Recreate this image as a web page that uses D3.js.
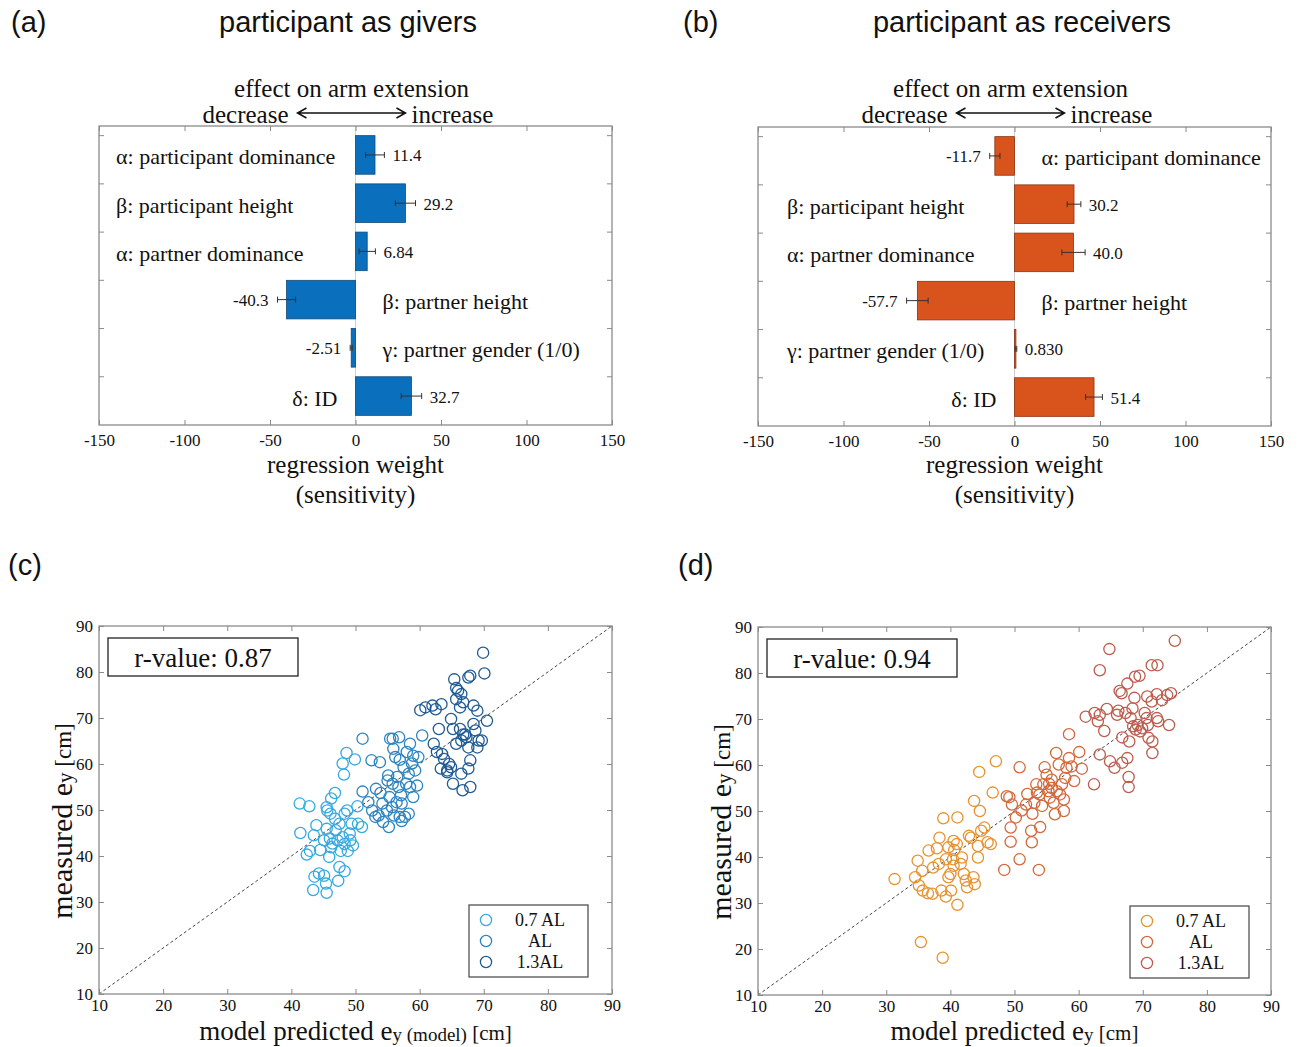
<!DOCTYPE html>
<html>
<head>
<meta charset="utf-8">
<script src="https://cdn.jsdelivr.net/npm/d3@7"></script>
<style>
  body { margin: 0; background: #fff; }
  text { font-family: 'Liberation Serif', 'Times New Roman', serif; fill: #111; }
  .sans { font-family: 'Liberation Sans', Arial, sans-serif; }
</style>
</head>
<body>
<script>
/* Regression weights (bar panels) */
var categories = ['α: participant dominance', 'β: participant height', 'α: partner dominance',
                  'β: partner height', 'γ: partner gender (1/0)', 'δ: ID'];
var barTicks = [-150, -100, -50, 0, 50, 100, 150];

var giverWeights = [11.4, 29.2, 6.84, -40.3, -2.51, 32.7];
var giverErrors = [5.5, 5.9, 4.8, 5.3, 0.6, 6.0];
var giverLabels = ['11.4', '29.2', '6.84', '-40.3', '-2.51', '32.7'];

var receiverWeights = [-11.5, 34.8, 34.5, -56.8, 0.83, 46.5];
var receiverErrors = [3.0, 4.0, 6.8, 6.3, 0.5, 4.9];
var receiverLabels = ['-11.7', '30.2', '40.0', '-57.7', '0.830', '51.4'];

/* Measured vs predicted arm extension (scatter panels) */
var scatterTicks = [10, 20, 30, 40, 50, 60, 70, 80, 90];
var groupNames = ['0.7 AL', 'AL', '1.3AL'];

var givers07 = [[41.3,51.4],[42.8,50.8],[41.4,45.0],[42.4,40.3],[42.9,41.1],[43.5,44.5],[43.9,46.7],
  [43.4,32.6],[43.6,35.5],[44.3,36.2],[45.1,35.7],[45.5,32.0],[45.4,34.0],[44.5,41.3],[45.9,39.8],
  [45.1,43.4],[45.5,45.9],[45.6,49.9],[46.1,49.2],[45.5,50.6],[46.2,52.5],[46.8,53.7],[48.0,60.1],
  [48.6,62.4],[48.2,57.7],[49.9,61.0],[46.4,42.7],[47.2,43.4],[46.9,45.6],[47.5,47.0],[46.8,48.1],
  [48.3,49.2],[48.7,49.9],[47.5,37.6],[48.3,36.7],[47.3,34.6],[47.7,41.1],[48.3,42.6],[49.2,43.4],
  [49.6,42.3],[49.1,44.9],[49.4,47.0],[50.3,50.8],[50.4,47.0],[51.0,46.3],[48.8,41.1],[48.0,44.1],
  [46.2,41.9],[46.0,43.8]];
var giversAL = [[51.1,65.5],[51.1,54.0],[52.5,60.8],[53.8,60.4],[52.0,51.7],[52.6,49.9],[53.1,48.5],
  [53.2,54.6],[53.9,53.7],[54.2,51.4],[53.6,48.8],[54.3,47.4],[55.2,46.3],[54.9,49.9],[55.1,57.5],
  [55.4,65.5],[55.8,65.5],[56.8,65.8],[55.9,63.3],[56.2,61.5],[55.3,52.8],[55.7,50.6],[56.0,48.8],
  [56.9,48.5],[57.2,47.6],[57.7,48.5],[58.3,49.2],[57.2,51.4],[56.4,51.7],[56.7,55.0],[57.1,53.2],
  [56.5,57.2],[57.5,59.3],[56.9,60.9],[58.0,62.6],[58.5,64.4],[59.0,61.8],[58.8,60.1],[59.3,58.6],
  [58.3,57.9],[59.6,55.3],[59.0,52.8],[57.9,55.7],[59.8,61.5],[60.4,66.2],[58.5,55.0],[55.8,55.7],
  [55.0,56.4]];
var givers13 = [[60.1,71.7],[60.9,72.3],[62.0,72.7],[62.5,71.9],[63.4,73.0],[62.2,64.4],[63.0,67.6],
  [62.7,62.6],[63.5,62.2],[63.8,61.1],[63.3,59.0],[64.3,58.2],[64.6,60.0],[64.9,59.3],[65.2,55.7],
  [65.4,78.4],[65.7,76.5],[66.0,75.9],[66.5,75.2],[65.7,74.1],[66.3,72.3],[66.8,73.4],[67.6,78.8],
  [67.9,79.2],[64.9,69.8],[65.2,67.6],[66.3,67.6],[66.8,66.4],[67.1,66.4],[67.3,65.8],[66.5,65.1],
  [67.6,63.6],[67.9,60.8],[67.6,59.0],[66.5,57.9],[66.7,54.3],[67.9,55.0],[68.4,72.7],[69.0,71.6],
  [68.4,68.7],[68.7,67.3],[69.2,65.1],[69.0,63.6],[69.7,65.1],[70.5,69.4],[69.9,84.2],[70.1,79.7],
  [65.7,64.4],[64.3,58.6]];

var receivers07 = [[31.3,35.2],[34.9,39.2],[34.5,35.6],[35.6,37.0],[35.1,33.8],[35.7,32.7],[36.5,32.1],
  [37.2,32.0],[36.6,41.4],[37.3,37.7],[37.9,41.9],[38.3,44.2],[38.2,38.5],[38.9,48.4],[38.6,32.7],
  [39.3,31.4],[39.7,35.6],[40.0,36.3],[40.1,32.7],[40.5,38.1],[39.7,42.1],[40.5,43.5],[41.0,42.8],
  [40.4,39.5],[41.1,48.6],[41.1,29.6],[41.6,38.5],[41.8,39.9],[42.1,36.3],[42.4,34.9],[42.6,33.4],
  [42.9,44.6],[43.2,44.2],[43.7,52.2],[43.6,35.6],[43.8,34.1],[44.3,39.9],[44.3,42.4],[44.5,58.5],
  [44.6,50.0],[44.8,45.7],[45.3,46.4],[45.8,43.2],[46.3,42.8],[46.6,54.0],[47.1,60.8],[39.3,39.5],
  [40.6,41.5],[35.4,21.5],[38.8,18.1]];
var receiversAL = [[48.4,37.2],[49.4,43.3],[49.4,46.4],[48.8,53.2],[49.2,53.0],[49.6,51.4],[50.2,48.6],
  [50.8,39.5],[50.8,59.5],[51.1,50.1],[51.8,51.4],[52.0,53.7],[52.6,45.7],[52.7,43.2],[52.8,49.4],
  [53.1,51.8],[53.4,55.8],[53.5,54.0],[53.8,37.2],[54.0,46.5],[54.3,51.1],[54.5,55.8],[54.7,59.5],
  [55.0,57.9],[55.3,54.3],[55.5,52.9],[55.8,55.0],[56.1,51.8],[56.3,49.3],[56.5,62.6],[56.9,60.1],
  [57.1,53.6],[57.4,55.8],[57.7,50.0],[57.9,57.2],[58.1,59.4],[58.5,61.5],[58.5,66.7],[58.9,59.7],
  [59.3,56.5],[60.1,62.8],[60.5,59.2],[57.7,52.5],[55.8,56.8],[53.9,53.6],[55.4,55.9],[56.6,54.3]];
var receivers13 = [[61.1,70.5],[62.5,71.3],[62.4,55.8],[63.3,80.6],[63.3,62.3],[63.0,69.5],[63.3,70.9],
  [64.0,67.4],[64.4,72.2],[64.8,85.2],[64.9,60.8],[65.6,59.4],[66.0,70.9],[66.2,71.8],[66.4,76.1],
  [66.7,75.6],[66.8,66.0],[66.8,60.5],[67.3,71.3],[67.6,61.5],[67.6,77.7],[67.8,57.4],[67.8,55.2],
  [67.9,65.1],[68.1,70.2],[68.4,72.3],[68.7,74.6],[68.8,79.2],[69.5,79.4],[68.5,68.4],[68.9,67.7],
  [69.2,68.7],[69.6,67.3],[69.9,68.0],[70.3,71.3],[70.7,74.9],[70.8,68.7],[70.9,65.9],[71.4,73.8],
  [71.5,65.1],[71.4,81.7],[72.3,81.7],[72.2,70.2],[71.5,62.6],[72.2,75.4],[73.0,74.1],[73.8,75.2],
  [74.4,75.6],[74.1,68.7],[75.0,87.0],[72.4,69.5],[70.6,70.2]];

var svg = d3.select('body').append('svg')
    .attr('width', 1300)
    .attr('height', 1047);

var boxColor = '#8a8a8a';
var plain = function (d) { return String(d); };

/* Panel headings */
function heading(x, y, txt, anchor) {
    svg.append('text').attr('class', 'sans')
        .attr('x', x).attr('y', y)
        .attr('text-anchor', anchor || 'start')
        .attr('dominant-baseline', 'central')
        .style('font-size', '29px')
        .text(txt);
}
heading(11, 22, '(a)');
heading(348, 22, 'participant as givers', 'middle');
heading(683, 22, '(b)');
heading(1022, 22, 'participant as receivers', 'middle');
heading(8, 565, '(c)');
heading(678, 565, '(d)');

/*
 * Draws one horizontal bar panel of regression weights.
 */
function drawBars(cfg) {
    var x = d3.scaleLinear().domain([-150, 150]).range([cfg.left, cfg.right]);
    var y = d3.scaleBand().domain(d3.range(categories.length))
        .range([cfg.top, cfg.bottom])
        .paddingInner(0.2).paddingOuter(0.2);
    var g = svg.append('g');
    var x0 = x(0);

    /* header: effect on arm extension */
    g.append('text').attr('x', x0 - 4).attr('y', 88)
        .attr('text-anchor', 'middle').attr('dominant-baseline', 'central')
        .style('font-size', '25px').text('effect on arm extension');
    g.append('text').attr('x', x0 - 67).attr('y', 114)
        .attr('text-anchor', 'end').attr('dominant-baseline', 'central')
        .style('font-size', '25px').text('decrease');
    g.append('text').attr('x', x0 + 56).attr('y', 114)
        .attr('text-anchor', 'start').attr('dominant-baseline', 'central')
        .style('font-size', '25px').text('increase');
    var ax1 = x0 - 58, ax2 = x0 + 50, ay = 113;
    g.append('path')
        .attr('d', 'M' + ax1 + ',' + ay + 'H' + ax2 +
              'M' + (ax1 + 9) + ',' + (ay - 5) + 'L' + ax1 + ',' + ay + 'L' + (ax1 + 9) + ',' + (ay + 5) +
              'M' + (ax2 - 9) + ',' + (ay - 5) + 'L' + ax2 + ',' + ay + 'L' + (ax2 - 9) + ',' + (ay + 5))
        .attr('fill', 'none').attr('stroke', '#111').attr('stroke-width', 1.5);

    /* zero line */
    g.append('line').attr('x1', x0).attr('x2', x0)
        .attr('y1', cfg.top).attr('y2', cfg.bottom)
        .attr('stroke', '#d0d0d0').attr('stroke-width', 1);

    /* bars */
    g.selectAll('rect.bar').data(cfg.values).enter().append('rect')
        .attr('class', 'bar')
        .attr('x', function (d) { return x(Math.min(0, d)); })
        .attr('width', function (d) { return Math.abs(x(d) - x0); })
        .attr('y', function (d, i) { return y(i); })
        .attr('height', y.bandwidth())
        .attr('fill', cfg.fill)
        .attr('stroke', cfg.stroke)
        .attr('stroke-width', 0.8);

    /* error bars */
    cfg.values.forEach(function (d, i) {
        var cy = y(i) + y.bandwidth() / 2;
        var e = cfg.errors[i];
        var xa = x(d - e), xb = x(d + e);
        g.append('path')
            .attr('d', 'M' + xa + ',' + cy + 'H' + xb +
                  'M' + xa + ',' + (cy - 3) + 'V' + (cy + 3) +
                  'M' + xb + ',' + (cy - 3) + 'V' + (cy + 3))
            .attr('stroke', '#333').attr('stroke-width', 1).attr('fill', 'none');

        /* value label */
        g.append('text')
            .attr('x', d < 0 ? xa - 9 : xb + 8)
            .attr('y', cy + 1)
            .attr('text-anchor', d < 0 ? 'end' : 'start')
            .attr('dominant-baseline', 'central')
            .style('font-size', '17px')
            .text(cfg.labels[i]);

        /* category label, on the free side of the bar */
        var lx, anchor;
        if (d < 0) { lx = x0 + 27; anchor = 'start'; }
        else if (i === categories.length - 1) { lx = x0 - 18; anchor = 'end'; }
        else { lx = cfg.left + cfg.labelPad; anchor = 'start'; }
        g.append('text')
            .attr('x', lx).attr('y', cy + 2)
            .attr('text-anchor', anchor)
            .attr('dominant-baseline', 'central')
            .style('font-size', '22px')
            .text(categories[i]);
    });

    /* box */
    g.append('rect').attr('x', cfg.left).attr('y', cfg.top)
        .attr('width', cfg.right - cfg.left).attr('height', cfg.bottom - cfg.top)
        .attr('fill', 'none').attr('stroke', boxColor).attr('stroke-width', 1.3);

    /* x axes: bottom with labels, top ticks only */
    var bottomAxis = g.append('g').attr('transform', 'translate(0,' + cfg.bottom + ')')
        .call(d3.axisBottom(x).tickValues(barTicks).tickFormat(plain)
              .tickSizeInner(-5).tickSizeOuter(0).tickPadding(9));
    var topAxis = g.append('g').attr('transform', 'translate(0,' + cfg.top + ')')
        .call(d3.axisTop(x).tickValues(barTicks).tickSizeInner(-5).tickSizeOuter(0).tickFormat(''));
    [bottomAxis, topAxis].forEach(function (a) {
        a.select('.domain').remove();
        a.selectAll('line').attr('stroke', boxColor);
        a.selectAll('text').style('font-size', '17px')
            .style('font-family', "'Liberation Serif', serif").attr('fill', '#111');
    });

    /* y ticks at each bar top, both sides */
    categories.forEach(function (c, i) {
        var ty = y(i);
        g.append('line').attr('x1', cfg.left).attr('x2', cfg.left + 5)
            .attr('y1', ty).attr('y2', ty).attr('stroke', boxColor);
        g.append('line').attr('x1', cfg.right - 5).attr('x2', cfg.right)
            .attr('y1', ty).attr('y2', ty).attr('stroke', boxColor);
    });

    /* axis title */
    g.append('text').attr('x', x0).attr('y', 464)
        .attr('text-anchor', 'middle').attr('dominant-baseline', 'central')
        .style('font-size', '25px').text('regression weight');
    g.append('text').attr('x', x0).attr('y', 494)
        .attr('text-anchor', 'middle').attr('dominant-baseline', 'central')
        .style('font-size', '25px').text('(sensitivity)');
}

drawBars({left: 99, right: 612, top: 126, bottom: 425, labelPad: 17,
          values: giverWeights, errors: giverErrors, labels: giverLabels,
          fill: '#0a6fbd', stroke: '#134a78'});
drawBars({left: 758, right: 1271, top: 127, bottom: 426, labelPad: 29,
          values: receiverWeights, errors: receiverErrors, labels: receiverLabels,
          fill: '#d9541c', stroke: '#8a3210'});

/*
 * Draws one measured vs. model predicted scatter panel.
 */
function drawScatter(cfg) {
    var x = d3.scaleLinear().domain([10, 90]).range([cfg.left, cfg.right]);
    var y = d3.scaleLinear().domain([10, 90]).range([cfg.bottom, cfg.top]);
    var g = svg.append('g');

    /* identity line */
    g.append('line')
        .attr('x1', x(10)).attr('y1', y(10)).attr('x2', x(90)).attr('y2', y(90))
        .attr('stroke', '#444').attr('stroke-width', 1).attr('stroke-dasharray', '3,2.5');

    /* points */
    cfg.groups.forEach(function (pts, k) {
        g.selectAll(null).data(pts).enter().append('circle')
            .attr('cx', function (d) { return x(d[0]); })
            .attr('cy', function (d) { return y(d[1]); })
            .attr('r', 5.6)
            .attr('fill', 'none')
            .attr('stroke', cfg.colors[k])
            .attr('stroke-width', 1.3);
    });

    /* box */
    g.append('rect').attr('x', cfg.left).attr('y', cfg.top)
        .attr('width', cfg.right - cfg.left).attr('height', cfg.bottom - cfg.top)
        .attr('fill', 'none').attr('stroke', boxColor).attr('stroke-width', 1.3);

    var axes = [
        g.append('g').attr('transform', 'translate(0,' + cfg.bottom + ')')
            .call(d3.axisBottom(x).tickValues(scatterTicks).tickFormat(plain)
                  .tickSizeInner(-5).tickSizeOuter(0).tickPadding(5)),
        g.append('g').attr('transform', 'translate(0,' + cfg.top + ')')
            .call(d3.axisTop(x).tickValues(scatterTicks).tickSizeInner(-5).tickSizeOuter(0).tickFormat('')),
        g.append('g').attr('transform', 'translate(' + cfg.left + ',0)')
            .call(d3.axisLeft(y).tickValues(scatterTicks).tickFormat(plain)
                  .tickSizeInner(-5).tickSizeOuter(0).tickPadding(6)),
        g.append('g').attr('transform', 'translate(' + cfg.right + ',0)')
            .call(d3.axisRight(y).tickValues(scatterTicks).tickSizeInner(-5).tickSizeOuter(0).tickFormat(''))
    ];
    axes.forEach(function (a) {
        a.select('.domain').remove();
        a.selectAll('line').attr('stroke', boxColor);
        a.selectAll('text').style('font-size', '17px')
            .style('font-family', "'Liberation Serif', serif").attr('fill', '#111');
    });

    /* r-value box */
    g.append('rect').attr('x', cfg.left + 9).attr('y', cfg.top + 12)
        .attr('width', 190).attr('height', 38)
        .attr('fill', '#fff').attr('stroke', '#222').attr('stroke-width', 1.3);
    g.append('text').attr('x', cfg.left + 104).attr('y', cfg.top + 32)
        .attr('text-anchor', 'middle').attr('dominant-baseline', 'central')
        .style('font-size', '27px').text(cfg.rText);

    /* legend */
    var lx = cfg.legendX, ly = cfg.bottom - 89;
    g.append('rect').attr('x', lx).attr('y', ly).attr('width', 119).attr('height', 72)
        .attr('fill', '#fff').attr('stroke', '#444').attr('stroke-width', 1.2);
    groupNames.forEach(function (name, k) {
        var ey = ly + 15 + k * 21;
        g.append('circle').attr('cx', lx + 17).attr('cy', ey).attr('r', 5.6)
            .attr('fill', 'none').attr('stroke', cfg.colors[k]).attr('stroke-width', 1.3);
        g.append('text').attr('x', lx + 71).attr('y', ey)
            .attr('text-anchor', 'middle').attr('dominant-baseline', 'central')
            .style('font-size', '18px').text(name);
    });

    /* axis titles */
    var xt = g.append('text').attr('x', (cfg.left + cfg.right) / 2).attr('y', 1031)
        .attr('text-anchor', 'middle').attr('dominant-baseline', 'central')
        .style('font-size', '27px');
    xt.append('tspan').text('model  predicted  e');
    xt.append('tspan').style('font-size', '19px').attr('dy', 3).text(cfg.xSub);
    xt.append('tspan').style('font-size', '21px').attr('dy', -1).text(' [cm]');

    var yt = g.append('text')
        .attr('transform', 'translate(' + (cfg.left - 38) + ',' + ((cfg.top + cfg.bottom) / 2 + 11) + ') rotate(-90)')
        .attr('text-anchor', 'middle').attr('dominant-baseline', 'central')
        .style('font-size', '30px');
    yt.append('tspan').text('measured  e');
    yt.append('tspan').style('font-size', '21px').attr('dy', 4).text('y');
    yt.append('tspan').style('font-size', '23px').attr('dy', -2).text(' [cm]');
}

drawScatter({left: 99, right: 612, top: 626, bottom: 994, legendX: 469,
             groups: [givers07, giversAL, givers13],
             colors: ['#35a9e0', '#2b84c0', '#1e5a94'],
             rText: 'r-value: 0.87', xSub: 'y (model)'});
drawScatter({left: 758, right: 1271, top: 627, bottom: 995, legendX: 1130,
             groups: [receivers07, receiversAL, receivers13],
             colors: ['#e8922e', '#d5683a', '#bd5c4e'],
             rText: 'r-value: 0.94', xSub: 'y'});
</script>
</body>
</html>
